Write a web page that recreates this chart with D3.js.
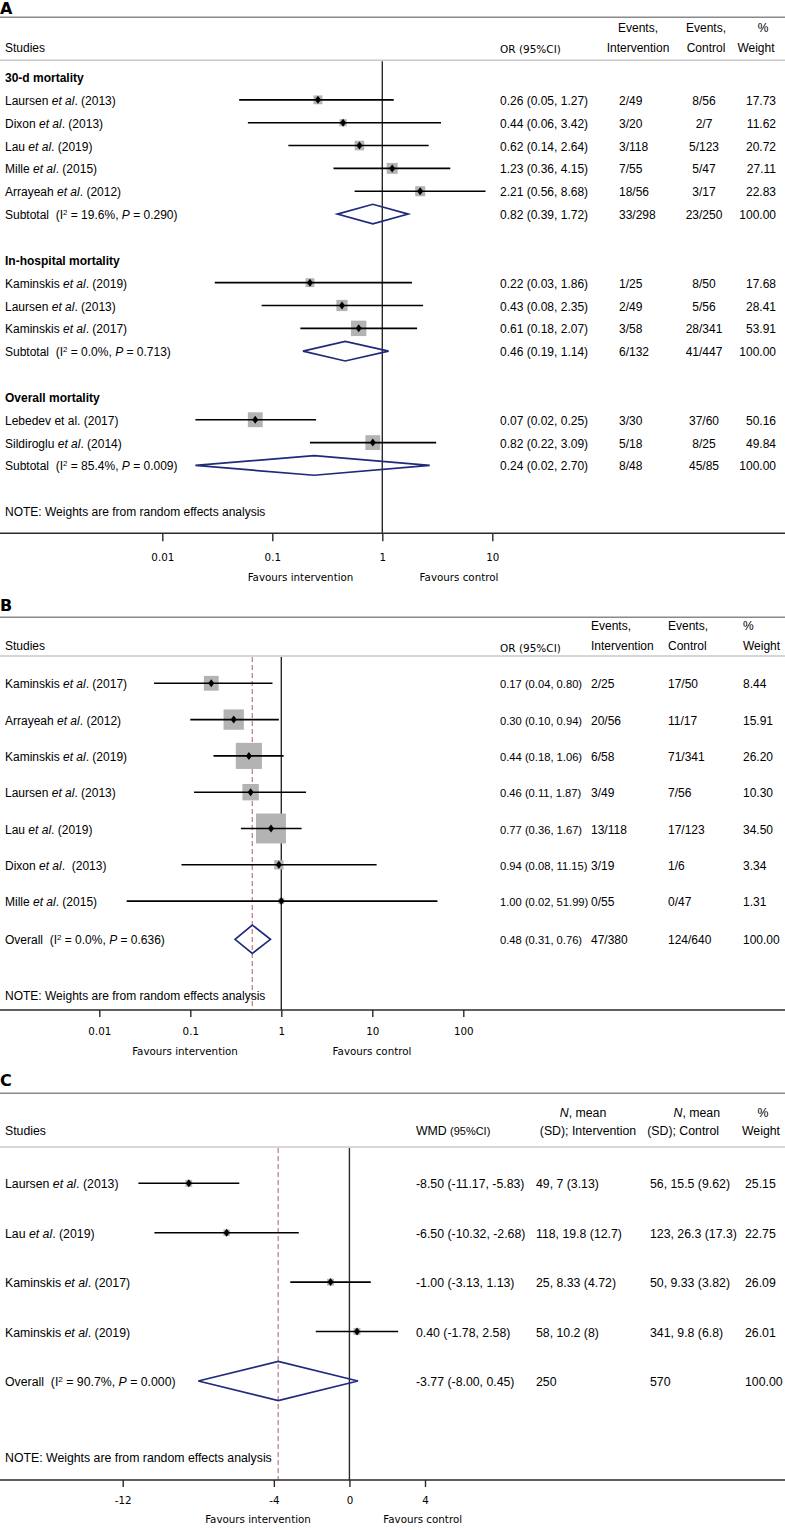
<!DOCTYPE html>
<html><head><meta charset="utf-8">
<script src="https://cdn.jsdelivr.net/npm/d3@7"></script>
<style>
body{margin:0;background:#fff;}
svg{display:block;}
text{font-family:"Liberation Sans",Arial,sans-serif;fill:#000;}
</style></head><body>
<svg id="chart" width="785" height="1530"></svg>
<script>
// ---------------- Panel A data ----------------
const A_groupTitles = ["30-d mortality", "In-hospital mortality", "Overall mortality"];
const A_studyNames = ["Laursen _et al_. (2013)", "Dixon _et al_. (2013)", "Lau _et al_. (2019)", "Mille _et al_. (2015)", "Arrayeah _et al_. (2012)",
  "Kaminskis _et al_. (2019)", "Laursen _et al_. (2013)", "Kaminskis _et al_. (2017)",
  "Lebedev et al. (2017)", "Sildiroglu _et al_. (2014)"];
const A_studyGroup = [0,0,0,0,0,1,1,1,2,2];
const A_or = [0.26,0.44,0.62,1.23,2.21,0.22,0.43,0.61,0.07,0.82];
const A_lo = [0.05,0.06,0.14,0.36,0.56,0.03,0.08,0.18,0.02,0.22];
const A_hi = [1.27,3.42,2.64,4.15,8.68,1.86,2.35,2.07,0.25,3.09];
const A_evInt = ["2/49","3/20","3/118","7/55","18/56","1/25","2/49","3/58","3/30","5/18"];
const A_evCtl = ["8/56","2/7","5/123","5/47","3/17","8/50","5/56","28/341","37/60","8/25"];
const A_weight = [17.73,11.62,20.72,27.11,22.83,17.68,28.41,53.91,50.16,49.84];
const A_subI2 = ["19.6","0.0","85.4"];
const A_subP = ["0.290","0.713","0.009"];
const A_subOr = [0.82,0.46,0.24];
const A_subLo = [0.39,0.19,0.02];
const A_subHi = [1.72,1.14,2.70];
const A_subEvInt = ["33/298","6/132","8/48"];
const A_subEvCtl = ["23/250","41/447","45/85"];
const A_ticks = [0.01,0.1,1,10];

// ---------------- Panel B data ----------------
const B_studyNames = ["Kaminskis _et al_. (2017)","Arrayeah _et al_. (2012)","Kaminskis _et al_. (2019)","Laursen _et al_. (2013)","Lau _et al_. (2019)","Dixon _et al_.  (2013)","Mille _et al_. (2015)"];
const B_or = [0.17,0.30,0.44,0.46,0.77,0.94,1.00];
const B_lo = [0.04,0.10,0.18,0.11,0.36,0.08,0.02];
const B_hi = [0.80,0.94,1.06,1.87,1.67,11.15,51.99];
const B_evInt = ["2/25","20/56","6/58","3/49","13/118","3/19","0/55"];
const B_evCtl = ["17/50","11/17","71/341","7/56","17/123","1/6","0/47"];
const B_weight = [8.44,15.91,26.20,10.30,34.50,3.34,1.31];
const B_overall = {or:0.48, lo:0.31, hi:0.76, i2:"0.0", p:"0.636", evInt:"47/380", evCtl:"124/640"};
const B_ticks = [0.01,0.1,1,10,100];

// ---------------- Panel C data ----------------
const C_studyNames = ["Laursen _et al_. (2013)","Lau _et al_. (2019)","Kaminskis _et al_. (2017)","Kaminskis _et al_. (2019)"];
const C_wmd = [-8.50,-6.50,-1.00,0.40];
const C_lo = [-11.17,-10.32,-3.13,-1.78];
const C_hi = [-5.83,-2.68,1.13,2.58];
const C_int = ["49, 7 (3.13)","118, 19.8 (12.7)","25, 8.33 (4.72)","58, 10.2 (8)"];
const C_ctl = ["56, 15.5 (9.62)","123, 26.3 (17.3)","50, 9.33 (3.82)","341, 9.8 (6.8)"];
const C_weight = [25.15,22.75,26.09,26.01];
const C_overall = {wmd:-3.77, lo:-8.00, hi:0.45, i2:"90.7", p:"0.000", nInt:"250", nCtl:"570"};
const C_ticks = [-12,-4,0,4];

// ---------------- helpers ----------------
const svg = d3.select("#chart");
const W = 785;
const DV = '"DejaVu Sans", Verdana, sans-serif';
const NAVY = "#1f2a7c";
const fmtCI = (e,l,h) => `${e.toFixed(2)} (${l.toFixed(2)}, ${h.toFixed(2)})`;

function rich(parent, x, y, str, opt = {}) {
  const t = parent.append("text").attr("x", x).attr("y", y)
    .attr("text-anchor", opt.anchor || "start")
    .style("font-size", (opt.size || 12) + "px")
    .style("white-space", "pre");
  if (opt.family) t.style("font-family", opt.family);
  if (opt.weight) t.style("font-weight", opt.weight);
  const parts = String(str).split(/(_[^_]+_|\^[^^]+\^)/).filter(s => s.length);
  let shift = 0;
  parts.forEach(p => {
    const ts = t.append("tspan");
    if (p[0] === "^" && p.length > 2) {
      ts.text(p.slice(1, -1)).style("font-size", "0.66em").attr("dy", -4.5);
      shift = 4.5;
      return;
    }
    if (p[0] === "_" && p.length > 2) ts.text(p.slice(1, -1)).style("font-style", "italic");
    else ts.text(p);
    if (shift) { ts.attr("dy", shift); shift = 0; }
  });
  return t;
}

function hline(y, color, w) {
  svg.append("line").attr("x1", 0).attr("x2", W).attr("y1", y).attr("y2", y)
    .attr("stroke", color).attr("stroke-width", w);
}

function drawPanel(p) {
  const g = svg.append("g");
  g.append("text").attr("x", 0).attr("y", p.letterY).text(p.letter)
    .style("font-family", DV).style("font-weight", "bold").style("font-size", "16px");
  hline(p.line1, "#8a8a8a", 1.5);
  hline(p.line2, "#c8c8c8", 1.5);
  p.headers.forEach(h => rich(g, h.x, h.y, h.t, {anchor: h.a || "start", size: h.s || p.fs, family: h.f}));
  if (p.dashAt !== undefined) {
    g.append("line").attr("x1", p.x(p.dashAt)).attr("x2", p.x(p.dashAt))
      .attr("y1", p.line2 + 1).attr("y2", p.axisY)
      .attr("stroke", "#c4828a").attr("stroke-width", 1.3).attr("stroke-dasharray", "5,3");
  }
  g.append("line").attr("x1", p.x(p.nullAt)).attr("x2", p.x(p.nullAt))
    .attr("y1", p.line2 + 1).attr("y2", p.axisY)
    .attr("stroke", "#2a2a2a").attr("stroke-width", 1.4);
  p.rows.forEach(r => {
    const ty = r.y + 5;
    if (r.type === "head") { rich(g, 5, ty, r.label, {weight: "bold", size: p.fs}); return; }
    if (r.type === "note") { rich(g, 5, ty, r.label, {size: p.fs}); return; }
    rich(g, 5, ty, r.label, {size: p.fs});
    r.cols.forEach((c, k) => rich(g, p.cols[k].x, ty, c, {anchor: p.cols[k].a, size: p.cols[k].s || p.fs}));
    if (r.type === "study") {
      const s = p.boxK * Math.sqrt(r.wt);
      const cx = p.x(r.est);
      g.append("rect").attr("x", cx - s / 2).attr("y", r.y - s / 2).attr("width", s).attr("height", s)
        .attr("fill", "#b3b3b3");
      g.append("line").attr("x1", p.x(r.lo)).attr("x2", p.x(r.hi)).attr("y1", r.y).attr("y2", r.y)
        .attr("stroke", "#000").attr("stroke-width", 1.6);
      g.append("path").attr("d", `M${cx},${r.y - 4}L${cx + 3},${r.y}L${cx},${r.y + 4}L${cx - 3},${r.y}Z`)
        .attr("fill", "#000");
    } else if (r.type === "sum") {
      const h = p.diamondH;
      g.append("path")
        .attr("d", `M${p.x(r.lo)},${r.y}L${p.x(r.est)},${r.y - h}L${p.x(r.hi)},${r.y}L${p.x(r.est)},${r.y + h}Z`)
        .attr("fill", "none").attr("stroke", NAVY).attr("stroke-width", 1.7);
    }
  });
  hline(p.axisY, "#2a2a2a", 1.4);
  const ax = d3.axisBottom(p.x).tickValues(p.ticks).tickSize(p.tickLen).tickPadding(p.tickPad)
    .tickFormat(d => String(d));
  const ag = g.append("g").attr("transform", `translate(0,${p.axisY})`).call(ax);
  ag.select(".domain").remove();
  ag.selectAll(".tick line").attr("stroke", "#2a2a2a").attr("stroke-width", 1.4);
  ag.selectAll(".tick text").style("font-family", DV).style("font-size", "10.3px").attr("fill", "#000");
  g.append("text").attr("x", p.favL).attr("y", p.favY).attr("text-anchor", "middle")
    .style("font-family", DV).style("font-size", "10.3px").text("Favours intervention");
  g.append("text").attr("x", p.favR).attr("y", p.favY).attr("text-anchor", "middle")
    .style("font-family", DV).style("font-size", "10.3px").text("Favours control");
}

// ---------------- Panel A ----------------
(function () {
  const y0 = 77, step = 22.85;
  const rows = [];
  let i = 0;
  A_groupTitles.forEach((gt, gi) => {
    rows.push({type: "head", label: gt, y: y0 + step * i++});
    A_studyNames.forEach((n, k) => {
      if (A_studyGroup[k] !== gi) return;
      rows.push({type: "study", label: n, y: y0 + step * i++, est: A_or[k], lo: A_lo[k], hi: A_hi[k], wt: A_weight[k],
        cols: [fmtCI(A_or[k], A_lo[k], A_hi[k]), A_evInt[k], A_evCtl[k], A_weight[k].toFixed(2)]});
    });
    rows.push({type: "sum", label: `Subtotal  (I^2^ = ${A_subI2[gi]}%, _P_ = ${A_subP[gi]})`, y: y0 + step * i++,
      est: A_subOr[gi], lo: A_subLo[gi], hi: A_subHi[gi],
      cols: [fmtCI(A_subOr[gi], A_subLo[gi], A_subHi[gi]), A_subEvInt[gi], A_subEvCtl[gi], "100.00"]});
    i++;
  });
  rows.push({type: "note", label: "NOTE: Weights are from random effects analysis", y: y0 + step * i});
  drawPanel({
    letter: "A", letterY: 13.5, line1: 17.3, line2: 60.3,
    x: d3.scaleLog().domain([0.01, 10]).range([162.3, 492.3]),
    nullAt: 1, rows, fs: 12, boxK: 2.1, diamondH: 9.8,
    cols: [{x: 500, a: "start"}, {x: 619, a: "start"}, {x: 704, a: "middle"}, {x: 776, a: "end"}],
    headers: [
      {x: 5, y: 52, t: "Studies"},
      {x: 500, y: 53, t: "OR (95%CI)", s: 10.5, f: DV},
      {x: 638, y: 32, t: "Events,", a: "middle"},
      {x: 638, y: 51.7, t: "Intervention", a: "middle"},
      {x: 706, y: 32, t: "Events,", a: "middle"},
      {x: 706, y: 51.7, t: "Control", a: "middle"},
      {x: 763, y: 32, t: "%", a: "middle"},
      {x: 756, y: 51.7, t: "Weight", a: "middle"}
    ],
    axisY: 533.3, ticks: A_ticks, tickLen: 8, tickPad: 12,
    favL: 300.5, favR: 459, favY: 580.6
  });
})();

// ---------------- Panel B ----------------
(function () {
  const y0 = 683.3, step = 36.3;
  const rows = B_studyNames.map((n, k) => ({type: "study", label: n, y: y0 + step * k, est: B_or[k], lo: B_lo[k], hi: B_hi[k], wt: B_weight[k],
    cols: [fmtCI(B_or[k], B_lo[k], B_hi[k]), B_evInt[k], B_evCtl[k], B_weight[k].toFixed(2)]}));
  rows.push({type: "sum", label: `Overall  (I^2^ = ${B_overall.i2}%, _P_ = ${B_overall.p})`, y: 939.3,
    est: B_overall.or, lo: B_overall.lo, hi: B_overall.hi,
    cols: [fmtCI(B_overall.or, B_overall.lo, B_overall.hi), B_overall.evInt, B_overall.evCtl, "100.00"]});
  rows.push({type: "note", label: "NOTE: Weights are from random effects analysis", y: 995});
  drawPanel({
    letter: "B", letterY: 610.5, line1: 617.3, line2: 656,
    x: d3.scaleLog().domain([0.01, 100]).range([99.3, 463.3]),
    nullAt: 1, dashAt: B_overall.or, rows, fs: 12, boxK: 5.1, diamondH: 14.2,
    cols: [{x: 500, a: "start", s: 11.2}, {x: 591, a: "start"}, {x: 668, a: "start"}, {x: 743, a: "start"}],
    headers: [
      {x: 5, y: 650, t: "Studies"},
      {x: 500, y: 652, t: "OR (95%CI)", s: 10.5, f: DV},
      {x: 591, y: 630, t: "Events,"},
      {x: 591, y: 650, t: "Intervention"},
      {x: 668, y: 630, t: "Events,"},
      {x: 668, y: 650, t: "Control"},
      {x: 743, y: 630, t: "%"},
      {x: 743, y: 650, t: "Weight"}
    ],
    axisY: 1010, ticks: B_ticks, tickLen: 7, tickPad: 10.4,
    favL: 185, favR: 372, favY: 1055.3
  });
})();

// ---------------- Panel C ----------------
(function () {
  const y0 = 1183.3, step = 49.4;
  const rows = C_studyNames.map((n, k) => ({type: "study", label: n, y: y0 + step * k, est: C_wmd[k], lo: C_lo[k], hi: C_hi[k], wt: C_weight[k],
    cols: [fmtCI(C_wmd[k], C_lo[k], C_hi[k]), C_int[k], C_ctl[k], C_weight[k].toFixed(2)]}));
  rows.push({type: "sum", label: `Overall  (I^2^ = ${C_overall.i2}%, _P_ = ${C_overall.p})`, y: 1381,
    est: C_overall.wmd, lo: C_overall.lo, hi: C_overall.hi,
    cols: [fmtCI(C_overall.wmd, C_overall.lo, C_overall.hi), C_overall.nInt, C_overall.nCtl, "100.00"]});
  rows.push({type: "note", label: "NOTE: Weights are from random effects analysis", y: 1457});
  drawPanel({
    letter: "C", letterY: 1086, line1: 1093.3, line2: 1147,
    x: d3.scaleLinear().domain([-12, 4]).range([122.7, 425]),
    nullAt: 0, dashAt: C_overall.wmd, rows, fs: 12.3, boxK: 1.34, diamondH: 19.6,
    cols: [{x: 416, a: "start"}, {x: 536, a: "start"}, {x: 650, a: "start"}, {x: 745, a: "start"}],
    headers: [
      {x: 5, y: 1135, t: "Studies"},
      {x: 416, y: 1135, t: "WMD"},
      {x: 450, y: 1135, t: "(95%CI)", s: 11},
      {x: 583, y: 1117, t: "_N_, mean", a: "middle"},
      {x: 588, y: 1135, t: "(SD); Intervention", a: "middle"},
      {x: 720, y: 1117, t: "_N_, mean", a: "end"},
      {x: 719, y: 1135, t: "(SD); Control", a: "end"},
      {x: 763, y: 1117, t: "%", a: "middle"},
      {x: 761, y: 1135, t: "Weight", a: "middle"}
    ],
    axisY: 1480, ticks: C_ticks, tickLen: 7, tickPad: 10,
    favL: 258, favR: 422.7, favY: 1522.6
  });
})();
</script></body></html>
